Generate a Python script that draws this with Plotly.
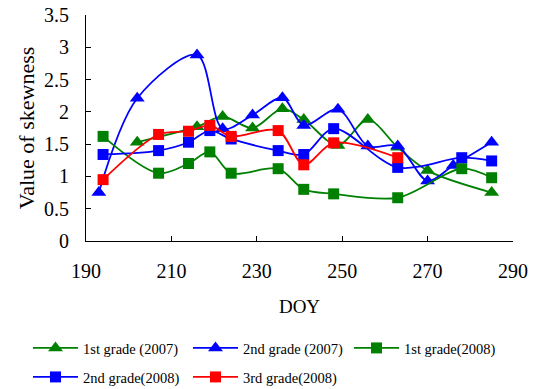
import plotly.graph_objects as go

doy_2007_g1 = [202, 216, 222, 229, 236, 241, 249, 256, 263, 270, 285]
val_2007_g1 = [1.53, 1.77, 1.93, 1.75, 2.05, 1.88, 1.48, 1.88, 1.45, 1.09, 0.75]

doy_2007_g2 = [193, 202, 216, 222, 229, 236, 241, 249, 256, 263, 270, 276, 285]
val_2007_g2 = [0.75, 2.21, 2.88, 1.74, 1.95, 2.22, 1.79, 2.04, 1.47, 1.47, 0.93, 1.17, 1.53]

doy_2008 = [194, 207, 214, 219, 224, 235, 241, 248, 263, 278, 285]
val_2008_g1 = [1.62, 1.05, 1.20, 1.38, 1.05, 1.12, 0.80, 0.73, 0.67, 1.12, 0.98]
val_2008_g2 = [1.34, 1.40, 1.53, 1.71, 1.58, 1.40, 1.34, 1.74, 1.14, 1.29, 1.24]

doy_2008_g3 = [194, 207, 214, 219, 224, 235, 241, 248, 263]
val_2008_g3 = [0.95, 1.65, 1.70, 1.79, 1.62, 1.71, 1.18, 1.52, 1.29]

x_ticks = [190, 210, 230, 250, 270, 290]
y_ticks = [0, 0.5, 1, 1.5, 2, 2.5, 3, 3.5]
y_tick_text = ["0", "0.5", "1", "1.5", "2", "2.5", "3", "3.5"]

GREEN = "#008000"
BLUE = "#0000ff"
RED = "#ff0000"

series = [
    ("1st grade (2007)", doy_2007_g1, val_2007_g1, GREEN, "triangle-up", 13),
    ("2nd grade (2007)", doy_2007_g2, val_2007_g2, BLUE, "triangle-up", 13),
    ("1st grade(2008)", doy_2008, val_2008_g1, GREEN, "square", 11),
    ("2nd grade(2008)", doy_2008, val_2008_g2, BLUE, "square", 11),
    ("3rd grade(2008)", doy_2008_g3, val_2008_g3, RED, "square", 11),
]
legend_ids = ["legend", "legend2", "legend3", "legend4", "legend5"]

W, H = 539, 389
# legend box positions (pixels): two rows
legend_px = [(28, 332), (188, 332), (349, 332), (28, 361), (188, 361)]

fig = go.Figure()
for (name, xs, ys, col, sym, sz), lg in zip(series, legend_ids):
    fig.add_trace(go.Scatter(
        x=xs, y=ys, name=name, mode="lines+markers", legend=lg,
        line=dict(color=col, width=1.8, shape="spline", smoothing=0.9),
        marker=dict(symbol=sym, size=sz, color=col),
    ))

font_family = "Liberation Serif, Times New Roman, serif"
legends = {}
for lg, (px, py) in zip(legend_ids, legend_px):
    legends[lg] = dict(
        orientation="h", xanchor="left", yanchor="top",
        xref="container", yref="container",
        x=px / W, y=1 - py / H,
        font=dict(family=font_family, size=14.5, color="black"),
        itemwidth=45, tracegroupgap=0, bgcolor="rgba(0,0,0,0)",
    )

fig.update_layout(
    width=W, height=H,
    margin=dict(l=86, r=26, t=15, b=148),
    paper_bgcolor="white", plot_bgcolor="white",
    font=dict(family=font_family, size=20, color="black"),
    showlegend=True,
    **legends,
    xaxis=dict(
        range=[190, 290], tickvals=x_ticks, ticktext=[str(t) for t in x_ticks],
        showgrid=False, zeroline=False, showline=True, linecolor="black", linewidth=1,
        ticks="inside", ticklen=5, tickcolor="black", ticklabelstandoff=12,
        title=dict(text="DOY", standoff=18, font=dict(size=19)),
        tickfont=dict(size=20), automargin=False, ticklabeloverflow="allow",
    ),
    yaxis=dict(
        range=[0, 3.5], tickvals=y_ticks, ticktext=y_tick_text,
        showgrid=False, zeroline=False, showline=True, linecolor="black", linewidth=1,
        ticks="inside", ticklen=5, tickcolor="black", ticklabelstandoff=12,
        title=dict(text="Value of skewness", standoff=3, font=dict(size=22)),
        tickfont=dict(size=20), automargin=False, ticklabeloverflow="allow",
    ),
)

# remove the browser's default 8px body margin so the figure fills the window
fig.write_html(
    "out.html",
    config={"displayModeBar": False},
    post_script="document.body.style.margin='0';",
)
